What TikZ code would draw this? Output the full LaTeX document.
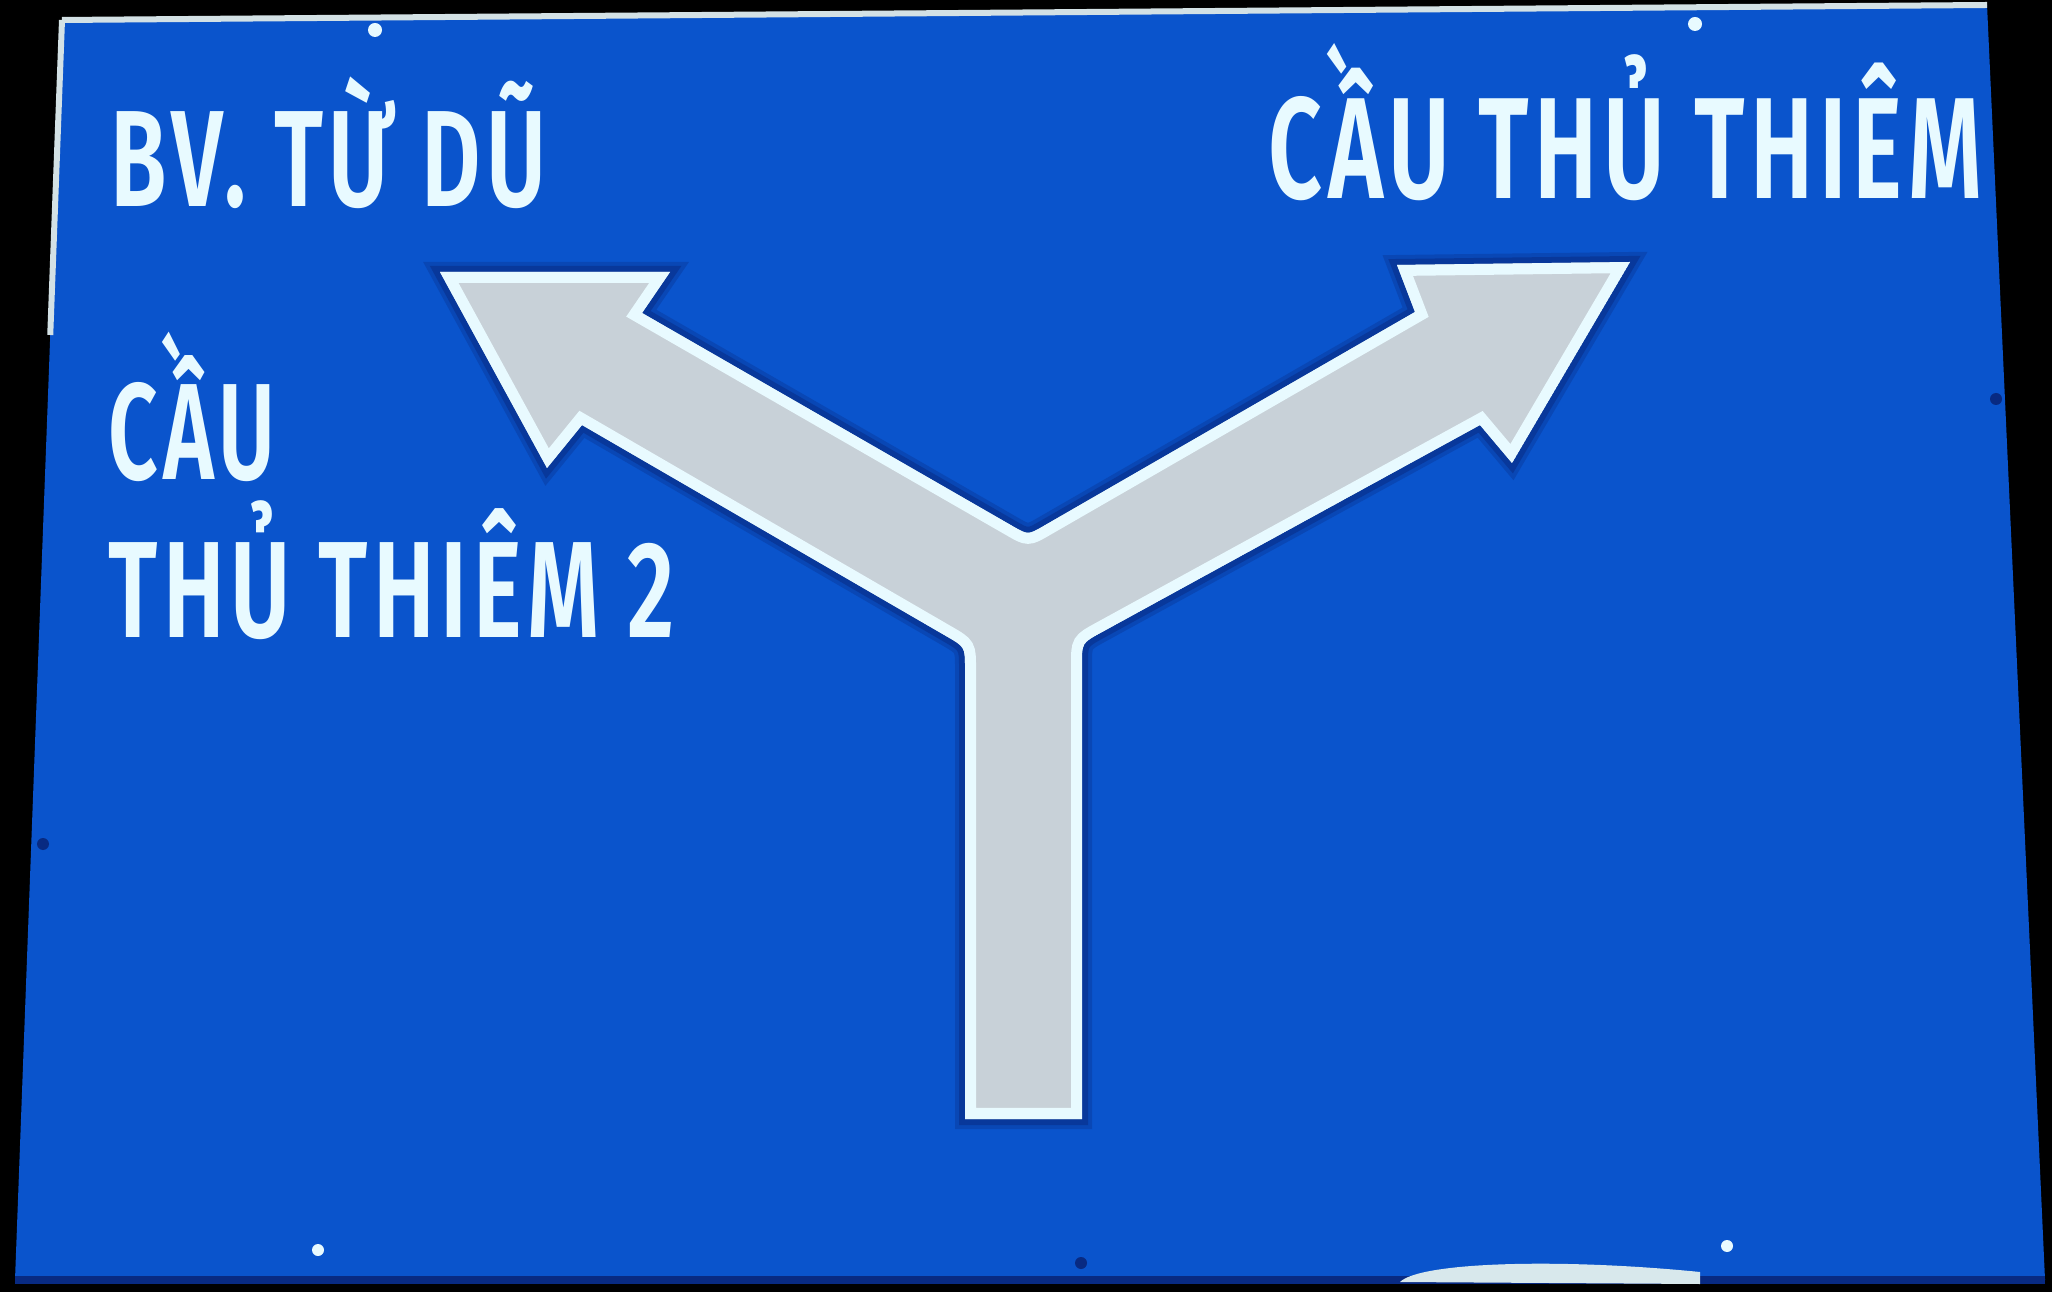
\documentclass[tikz,border=0pt]{standalone}
\usepackage{fontspec}
\usepackage{graphicx}
\usetikzlibrary{calc}
\newfontfamily\signfont{Fira Sans SemiBold}[LetterSpace=6]

\definecolor{signblue}{RGB}{10,84,204}
\definecolor{signnavy}{RGB}{8,42,130}
\definecolor{signgrey}{RGB}{200,209,216}
\definecolor{signwhite}{RGB}{232,250,255}

\begin{document}
\begin{tikzpicture}[x=0.01cm,y=-0.01cm,line join=miter,
                    signtext/.style={text=signwhite,inner sep=0pt,anchor=base west,
                                     font=\signfont\fontsize{39}{46}\selectfont},
                    rivet/.style={fill=#1,draw=none}]
          \tikzstyle{rim}=[draw=signwhite!80!gray,line width=0.06cm]

          \useasboundingbox (0,0) rectangle (2052,1292);
          \fill[black] (0,0) rectangle (2052,1292);

          % sign plate
          \coordinate (tl) at (62,20);
          \coordinate (tr) at (1987,5);
          \coordinate (br) at (2045,1280);
          \coordinate (bl) at (15,1280);
          \fill[signblue] (tl) -- (tr) -- (br) -- (bl) -- cycle;
          \draw[rim] (tl) -- (tr);
          \draw[rim] (tl) -- ($(tl)!0.25!(bl)$);
          \draw[signnavy,line width=0.08cm] (bl) -- (br);
          \fill[signwhite!85!gray] (1400,1282) .. controls (1420,1262) and (1560,1258) .. (1700,1272)
                                   -- (1700,1284) -- cycle;

          % rivets
          \fill[rivet=signwhite] (375,30) circle (7);
          \fill[rivet=signwhite] (1695,24) circle (7);
          \fill[rivet=signwhite] (318,1250) circle (6);
          \fill[rivet=signwhite] (1727,1246) circle (6);
          \fill[rivet=signnavy] (43,844) circle (6);
          \fill[rivet=signnavy] (1996,399) circle (6);
          \fill[rivet=signnavy] (1081,1263) circle (6);

          % Y arrow
          \coordinate (sl) at (965,1119);
          \coordinate (jl) at (965,647);
          \coordinate (ln) at (582,425);
          \coordinate (lb) at (547,468);
          \coordinate (lt) at (440,272);
          \coordinate (lc) at (670,272);
          \coordinate (lu) at (642,313);
          \coordinate (jt) at (1028,535);
          \coordinate (ru) at (1415,312);
          \coordinate (rc) at (1397,265);
          \coordinate (rt) at (1630,262);
          \coordinate (rb) at (1512,463);
          \coordinate (rn) at (1480,425);
          \coordinate (jr) at (1082,643);
          \coordinate (sr) at (1082,1119);
          \def\ypath{(sl) -- ($(jl)!6pt!(sl)$) .. controls (jl) .. ($(jl)!6pt!(ln)$)
                     -- (ln) -- (lb) -- (lt) -- (lc) -- (lu)
                     -- ($(jt)!5pt!(lu)$) .. controls (jt) .. ($(jt)!5pt!(ru)$)
                     -- (ru) -- (rc) -- (rt) -- (rb) -- (rn)
                     -- ($(jr)!6pt!(rn)$) .. controls (jr) .. ($(jr)!6pt!(sr)$)
                     -- (sr) -- cycle}

          % soft dark edge
          \draw[signnavy,opacity=0.3,line width=0.2cm] \ypath;
          \draw[signnavy,opacity=0.5,line width=0.12cm] \ypath;
          \begin{scope}
            \clip \ypath;
            \fill[signgrey] \ypath;
            \draw[signwhite,line width=0.22cm] \ypath;
          \end{scope}

          % destinations
          \node[signtext] (tudu) at (110,207) {\resizebox{4.36cm}{\height}{BV. TỪ DŨ}};
          \node[signtext] (cau) at (108,480) {\resizebox{1.67cm}{\height}{CẦU}};
          \node[signtext] (thiemtwo) at (108,638) {\resizebox{5.66cm}{\height}{THỦ THIÊM 2}};
          \node[signtext,font=\signfont\fontsize{41}{48}\selectfont]
                (thiem) at (1268,199) {\resizebox{7.13cm}{\height}{CẦU THỦ THIÊM}};

        \end{tikzpicture}
\end{document}
